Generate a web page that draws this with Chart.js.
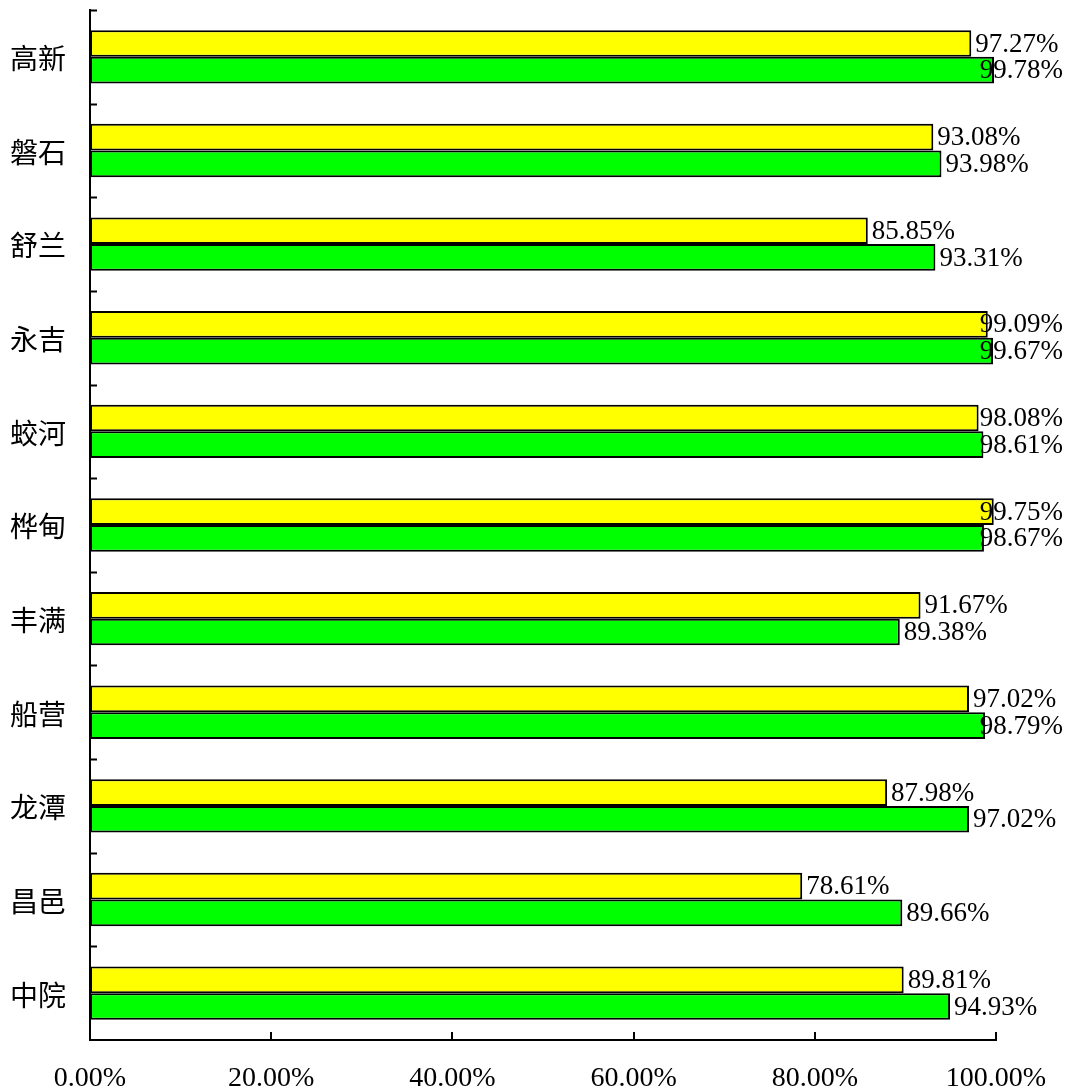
<!DOCTYPE html>
<html>
<head>
<meta charset="utf-8">
<script src="https://cdn.jsdelivr.net/npm/chart.js@4.4.0/dist/chart.umd.min.js"></script>
<style>
  html, body { margin: 0; padding: 0; background: #fff; }
  #wrap { width: 1070px; height: 1092px; }
</style>
</head>
<body>
<div id="wrap"><canvas id="myChart" width="1070" height="1092"></canvas></div>
<script>
var categories = ['高新', '磐石', '舒兰', '永吉', '蛟河', '桦甸', '丰满', '船营', '龙潭', '昌邑', '中院'];
var yellowVals = [97.27, 93.08, 85.85, 99.09, 98.08, 99.75, 91.67, 97.02, 87.98, 78.61, 89.81];
var greenVals = [99.78, 93.98, 93.31, 99.67, 98.61, 98.67, 89.38, 98.79, 97.02, 89.66, 94.93];
var xTicks = [0, 20, 40, 60, 80, 100];

var FONT = "'Liberation Serif', 'Noto Sans CJK SC', serif";

// small tick marks pointing into the plot, plus value labels at bar ends
var marksPlugin = {
  id: 'marks',
  afterDatasetsDraw: function(chart) {
    var ctx = chart.ctx;
    var xs = chart.scales.x, ys = chart.scales.y;
    ctx.save();
    ctx.strokeStyle = '#000';
    ctx.lineWidth = 2;
    // y ticks at category boundaries
    var n = categories.length;
    var step = (ys.bottom - ys.top) / n;
    for (var i = 0; i < n; i++) {
      var y = Math.round(ys.top + i * step) + 0.5;
      ctx.beginPath();
      ctx.moveTo(xs.left, y);
      ctx.lineTo(xs.left + 7, y);
      ctx.stroke();
    }
    // x ticks going up
    xTicks.forEach(function(v) {
      var x = Math.round(xs.getPixelForValue(v));
      ctx.beginPath();
      ctx.moveTo(x, ys.bottom);
      ctx.lineTo(x, ys.bottom - 8);
      ctx.stroke();
    });
    // value labels
    ctx.fillStyle = '#000';
    ctx.font = '27px ' + FONT;
    ctx.textBaseline = 'middle';
    ctx.textAlign = 'left';
    chart.data.datasets.forEach(function(ds, di) {
      var meta = chart.getDatasetMeta(di);
      meta.data.forEach(function(bar, idx) {
        var txt = ds.data[idx].toFixed(2) + '%';
        var w = ctx.measureText(txt).width;
        var tx = bar.x + 4;
        if (tx + w > chart.width - 7) tx = chart.width - 7 - w;
        ctx.fillText(txt, tx, bar.y + 1);
      });
    });
    ctx.restore();
  }
};

var ctx = document.getElementById('myChart').getContext('2d');
var myChart = new Chart(ctx, {
  type: 'bar',
  data: {
    labels: categories,
    datasets: [{
      label: 'yellow',
      data: yellowVals,
      backgroundColor: '#ffff00',
      borderColor: '#000',
      borderWidth: 2,
      borderSkipped: false
    }, {
      label: 'green',
      data: greenVals,
      backgroundColor: '#00ff00',
      borderColor: '#000',
      borderWidth: 2,
      borderSkipped: false
    }]
  },
  options: {
    indexAxis: 'y',
    responsive: false,
    animation: false,
    devicePixelRatio: 1,
    layout: { padding: { top: 10, right: 74, left: 0, bottom: 0 } },
    datasets: { bar: { categoryPercentage: 0.57, barPercentage: 1.0 } },
    plugins: {
      legend: { display: false },
      tooltip: { enabled: false }
    },
    scales: {
      x: {
        min: 0,
        max: 100,
        afterBuildTicks: function(scale) {
          scale.ticks = xTicks.map(function(v) { return { value: v }; });
        },
        afterFit: function(scale) { scale.height = 52; },
        grid: { display: false, drawTicks: false },
        border: { display: true, color: '#000', width: 2 },
        ticks: {
          color: '#000',
          padding: 22,
          font: { family: FONT, size: 28 },
          callback: function(v) { return v.toFixed(2) + '%'; }
        }
      },
      y: {
        afterFit: function(scale) {
          scale.width = 90;
          scale.paddingTop = 0;
          scale.paddingBottom = 0;
        },
        grid: { display: false, drawTicks: false },
        border: { display: true, color: '#000', width: 2 },
        ticks: {
          color: '#000',
          padding: 24,
          labelOffset: 5,
          font: { family: FONT, size: 28 }
        }
      }
    }
  },
  plugins: [marksPlugin]
});
</script>
</body>
</html>
